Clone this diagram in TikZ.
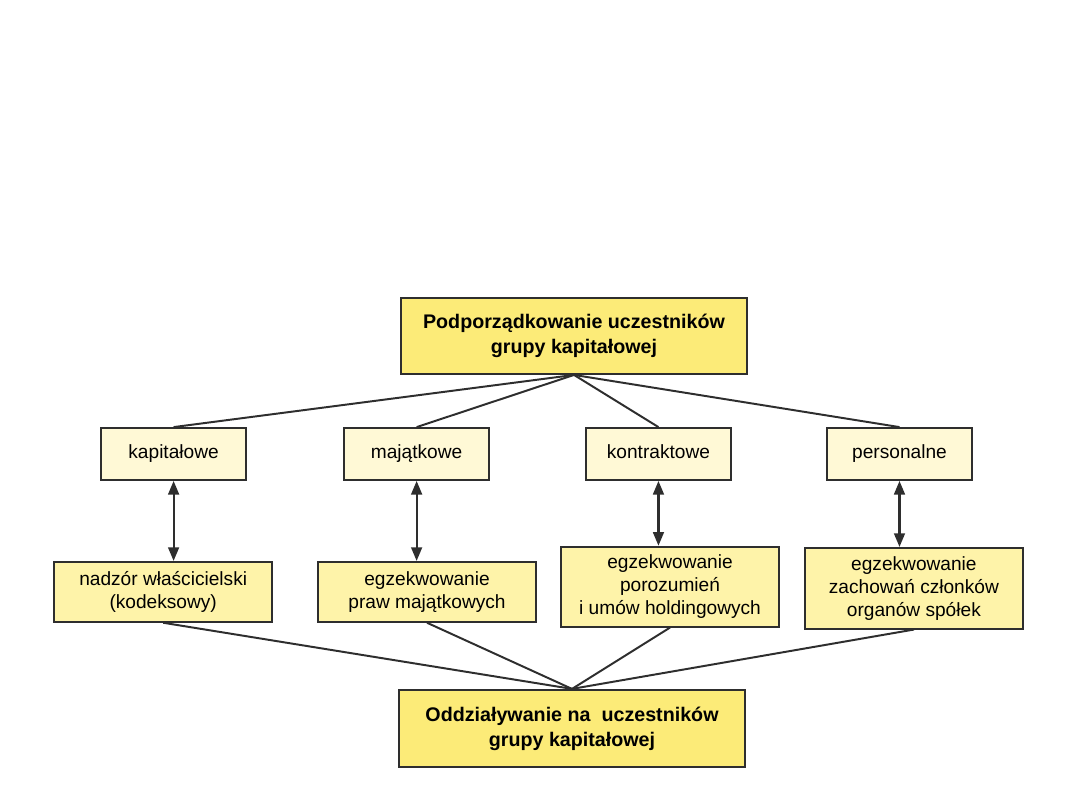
\documentclass[tikz,border=0pt]{standalone}
\usepackage{fontspec}
\setmainfont{Liberation Sans}
\usetikzlibrary{positioning,arrows.meta}

\definecolor{headyellow}{HTML}{FCEB78}
\definecolor{kindyellow}{HTML}{FFF9D6}
\definecolor{meansyellow}{HTML}{FEF3A9}
\definecolor{edgegray}{HTML}{2E2E2E}

\begin{document}
\begin{tikzpicture}[
    head/.style={rectangle, draw=edgegray, line width=1.3pt, fill=headyellow,
                 minimum width=8.65cm, minimum height=1.9cm, align=center,
                 inner sep=0pt, font=\fontsize{14}{17.8}\selectfont\bfseries},
    kind/.style={rectangle, draw=edgegray, line width=1.3pt, fill=kindyellow,
                 minimum width=3.63cm, minimum height=1.3cm, align=center,
                 text height=1.6ex, text depth=0.45ex,
                 inner sep=0pt, font=\fontsize{13.6}{16.4}\selectfont},
    means/.style={rectangle, draw=edgegray, line width=1.3pt, fill=meansyellow,
                  minimum width=5.45cm, minimum height=1.5cm, align=center,
                  inner sep=0pt, font=\fontsize{13.6}{16.4}\selectfont},
    link/.style={draw=edgegray, line width=1.4pt},
    arr/.style={{Triangle[length=3.4mm,width=2.7mm]}-{Triangle[length=3.4mm,width=2.7mm]},
                draw=edgegray, line width=1.5pt}
]
\useasboundingbox (0,0) rectangle (27,-20.25);

%% ── Top ──────────────────────────────────────────────────────────
\node[head] (podp) at (14.35,-8.4)
    {Podporządkowanie uczestników\\grupy kapitałowej};

%% ── Kinds of subordination ───────────────────────────────────────
\node[kind] (kap) at (4.34,-11.35) {kapitałowe};
\node[kind, right=2.40cm of kap] (maj) {majątkowe};
\node[kind, right=2.37cm of maj] (kon) {kontraktowe};
\node[kind, right=2.35cm of kon] (per) {personalne};

%% ── Means of influence ───────────────────────────────────────────
\node[means, below=2cm of kap, xshift=-0.26cm] (nadzor)
    {nadzór właścicielski\\(kodeksowy)};
\node[means, below=2cm of maj, xshift=0.26cm] (praw)
    {egzekwowanie\\praw majątkowych};
\node[means, below=1.62cm of kon, xshift=0.29cm, minimum height=2cm] (poroz)
    {egzekwowanie\\porozumień\\i umów holdingowych};
\node[means, below=1.65cm of per, xshift=0.36cm, minimum height=2.02cm] (zach)
    {egzekwowanie\\zachowań członków\\organów spółek};

%% ── Bottom ───────────────────────────────────────────────────────
\node[head, minimum height=1.93cm] (oddz) at (14.3,-18.21)
    {Oddziaływanie na\ \ uczestników\\grupy kapitałowej};

%% ── Connectors ───────────────────────────────────────────────────
\foreach \n in {kap,maj,kon,per}
    \draw[link] (podp.south) -- (\n.north);
\foreach \n in {nadzor,praw,poroz,zach}
    \draw[link] (\n.south) -- (oddz.north);

\draw[arr] (kap.south) -- (kap.south |- nadzor.north);
\draw[arr] (maj.south) -- (maj.south |- praw.north);
\draw[arr] (kon.south) -- (kon.south |- poroz.north);
\draw[arr] (per.south) -- (per.south |- zach.north);

\end{tikzpicture}
\end{document}
